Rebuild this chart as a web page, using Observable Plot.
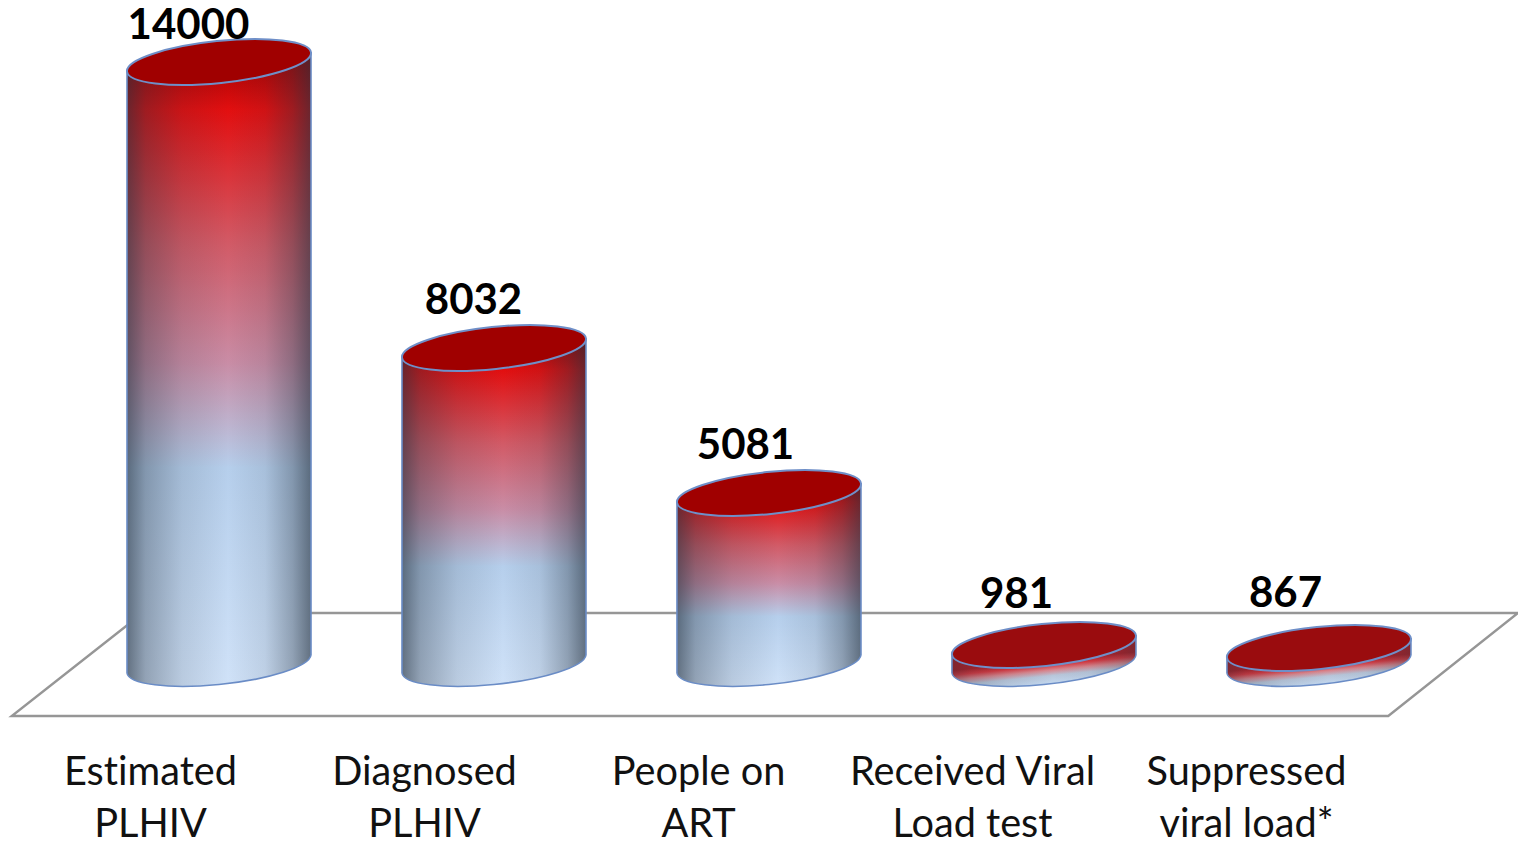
<!DOCTYPE html>
<html>
<head>
<meta charset="utf-8">
<style>
html,body{margin:0;padding:0;background:#fff;overflow:hidden}
svg{display:block}
svg text{font-variant-ligatures:none}
</style>
<script src="https://cdn.jsdelivr.net/npm/d3@7"></script>
<script src="https://cdn.jsdelivr.net/npm/@observablehq/plot@0.6"></script>
</head>
<body>
<div id="chart"></div>
<script>
const categories = ["Estimated\nPLHIV", "Diagnosed\nPLHIV", "People on\nART", "Received Viral\nLoad test", "Suppressed\nviral load*"];
const counts = [14000, 8032, 5081, 981, 867];

const rows = categories.map((category, i) => ({category, count: counts[i]}));

// The reference's cylinders do not rise linearly, so the y scale is piecewise.
const yDomain = [0, 867, 981, 5081, 8032, 14000];
const yRange = [664, 648, 645, 493, 348, 62];

const W = 1518, H = 841, FONT = "Lato, Carlito, Calibri, sans-serif";
const A = 92.5, B = 21, TILT = -5.9, EX = 92, EY = 9;

function floor(index, scales) {
  const left = scales.x.range()[0], right = scales.x.range()[1];
  const front = scales.y(0) + 52, back = scales.y(0) - 51;
  const p = [[left, front], [right + 4, front], [W, back], [left + 131, back]];
  const el = d3.create("svg:path")
    .attr("d", "M" + p.join("L") + "Z")
    .attr("fill", "none").attr("stroke", "#969696").attr("stroke-width", 2.4);
  return el.node();
}

function cylinders(index, scales, values) {
  const g = d3.create("svg:g");
  const defs = g.append("defs");
  const vertical = defs.append("linearGradient").attr("id", "cylV").attr("x1", 0).attr("x2", 0).attr("y1", 0).attr("y2", 1);
  [[0, "#a00000"], [0.09, "#e20f10"], [0.3, "#d25a66"], [0.49, "#c98da6"], [0.655, "#b6cfec"], [1, "#d0e2f8"]]
    .forEach(([o, c]) => vertical.append("stop").attr("offset", o).attr("stop-color", c));
  const disc = defs.append("linearGradient").attr("id", "discV").attr("x1", 0.277).attr("x2", 0.723).attr("y1", -0.1).attr("y2", 1.1);
  [[0.5, "#b02028"], [0.57, "#d83a42"], [0.64, "#d8868e"], [0.72, "#b8c6da"], [0.85, "#c4daf2"], [1, "#d0e2f8"]]
    .forEach(([o, c]) => disc.append("stop").attr("offset", o).attr("stop-color", c));
  const shade = defs.append("linearGradient").attr("id", "cylH");
  [[0, 0.64], [0.1, 0.36], [0.3, 0.13], [0.55, 0], [0.75, 0.1], [0.9, 0.36], [1, 0.64]]
    .forEach(([o, a]) => shade.append("stop").attr("offset", o).attr("stop-color", "#26323f").attr("stop-opacity", a));
  const bw = scales.x.bandwidth();
  for (const i of index) {
    const c = values.x[i] + bw / 2;
    const cx = c + 69 + (c - (scales.x.range()[0] + bw / 2)) * 0.0036;
    const top = values.y2[i], base = values.y1[i];
    const isDisc = base - top < 40;
    const body = `M${cx - EX},${top + EY}L${cx - EX},${base + EY}A${A} ${B} ${TILT} 0 0 ${cx + EX},${base - EY}L${cx + EX},${top - EY}Z`;
    g.append("path").attr("d", body).attr("fill", isDisc ? "url(#discV)" : "url(#cylV)");
    g.append("path").attr("d", body).attr("fill", "url(#cylH)")
      .attr("fill-opacity", isDisc ? 0.55 : 1)
      .attr("stroke", "#6a8cc6").attr("stroke-width", 1.6);
    g.append("ellipse").attr("cx", cx).attr("cy", top).attr("rx", A).attr("ry", B)
      .attr("transform", `rotate(${TILT} ${cx} ${top})`)
      .attr("fill", isDisc ? "#9a0c0e" : "#a00000")
      .attr("stroke", "#6f8fc8").attr("stroke-width", 2);
  }
  return g.node();
}

const labelNudge = [[38, -37], [49, -48], [47, -48], [44, -51], [39, -55]];

const plot = Plot.plot({
  width: W,
  height: H,
  margin: 0,
  style: {background: "#fff", fontFamily: FONT, overflow: "visible"},
  x: {type: "band", domain: categories, range: [11.75, 1384.25], padding: 0, axis: null},
  y: {type: "linear", domain: yDomain, range: yRange, axis: null},
  marks: [
    floor,
    Plot.barY(rows, {x: "category", y: "count", fill: "#b00", render: cylinders}),
    Plot.axisX({
      anchor: "bottom", tickSize: 0, tickPadding: 0, label: null,
      fontSize: 39.7, lineHeight: 1.31, fill: "#111", dy: -93
    }),
    ...rows.map((r, i) => Plot.text([r], {
      x: "category", y: "count", text: d => String(d.count),
      dx: labelNudge[i][0], dy: labelNudge[i][1],
      fontSize: 42, fontWeight: 700, fill: "#000", fontFamily: FONT
    }))
  ]
});
document.getElementById("chart").append(plot);
</script>
</body>
</html>
